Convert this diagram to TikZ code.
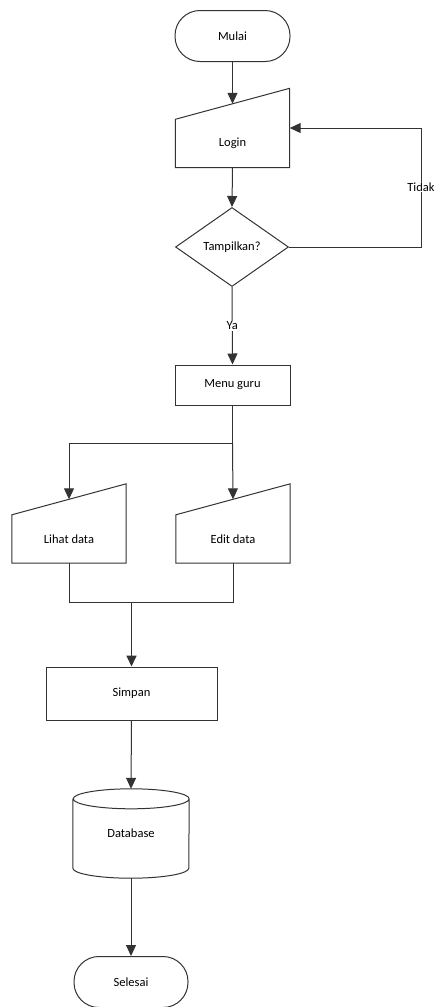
\documentclass[tikz,border=0pt]{standalone}
\usepackage{fontspec}
\setmainfont{Carlito}
\usetikzlibrary{shapes.geometric,arrows.meta}

\tikzset{
  line/.style={draw=black!80, line width=1pt},
  arr/.style={line, -{Triangle[length=11pt,width=10pt]}},
  term/.style={line, rectangle, rounded corners=25pt, minimum width=115pt, minimum height=51pt, inner sep=0pt},
  box/.style={line, rectangle, inner sep=0pt},
  manual/.style={rectangle, minimum width=114pt, minimum height=48pt, inner sep=0pt},
  decide/.style={line, diamond, aspect=1.43, minimum width=113pt, minimum height=79pt, inner sep=0pt},
  dbase/.style={rectangle, minimum width=116pt, minimum height=69pt, inner sep=0pt},
  lbl/.style={fill=white, inner sep=1pt}
}

% manual input outline, slanted top rising to the right
\newcommand{\manualin}[1]{%
  \draw[line] (#1.south west) -- (#1.south east) -- ([yshift=31pt]#1.north east) -- (#1.north west) -- cycle;
  \coordinate (#1-in) at ([yshift=15.5pt]#1.north);}
% database cylinder
\newcommand{\dbshape}[1]{%
  \draw[line] (#1.north west) -- (#1.south west) arc[start angle=180,end angle=360,x radius=58pt,y radius=10pt] -- (#1.north east) arc[start angle=0,end angle=360,x radius=58pt,y radius=10pt];
  \coordinate (#1-in) at ([yshift=10pt]#1.north);
  \coordinate (#1-out) at ([yshift=-10pt]#1.south);}

\begin{document}
\begin{tikzpicture}[x=1pt,y=-1pt,font=\fontsize{12.5}{15}\selectfont]
  \useasboundingbox (0,0) rectangle (436,1007);

  \node[term] (mulai) at (232.5,36) {Mulai};
  \node[manual] (login) at (232.5,143.5) {Login};
  \manualin{login}
  \node[decide] (tampil) at (232,247) {Tampilkan?};
  \node[box, minimum width=115pt, minimum height=40pt] (menu) at (232.5,385) {Menu guru};
  \node[manual] (lihat) at (69,539) {Lihat data};
  \manualin{lihat}
  \node[manual] (edit) at (233,539) {Edit data};
  \manualin{edit}
  \node[box, minimum width=171pt, minimum height=53pt] (simpan) at (131.5,693.5) {Simpan};
  \node[dbase] (db) at (131,833.5) {Database};
  \dbshape{db}
  \node[term, minimum width=114pt] (selesai) at (131,982) {Selesai};

  \coordinate (back) at (421,128);
  \coordinate (split) at (232.5,443);
  \coordinate (merge) at (131.5,602);

  \draw[arr] (mulai.south) -- (login-in);
  \draw[arr] (login.south) -- (tampil.north);
  \draw[arr] (tampil.east) -| (back) -- ([yshift=15.5pt]login.east);
  \node[lbl] at (421,187) {Tidak};
  \draw[arr] (tampil.south) -- node[lbl] {Ya} (menu.north);
  \draw[line] (menu.south) -- (split);
  \draw[arr] (split) -| (lihat-in);
  \draw[arr] (split) -- (edit-in);
  \draw[line] (lihat.south) |- (edit.south |- merge) -- (edit.south);
  \draw[arr, line width=1.7pt] (merge) -- (simpan.north);
  \draw[arr] (simpan.south) -- (db-in);
  \draw[arr] (db-out) -- (selesai.north);
\end{tikzpicture}
\end{document}
